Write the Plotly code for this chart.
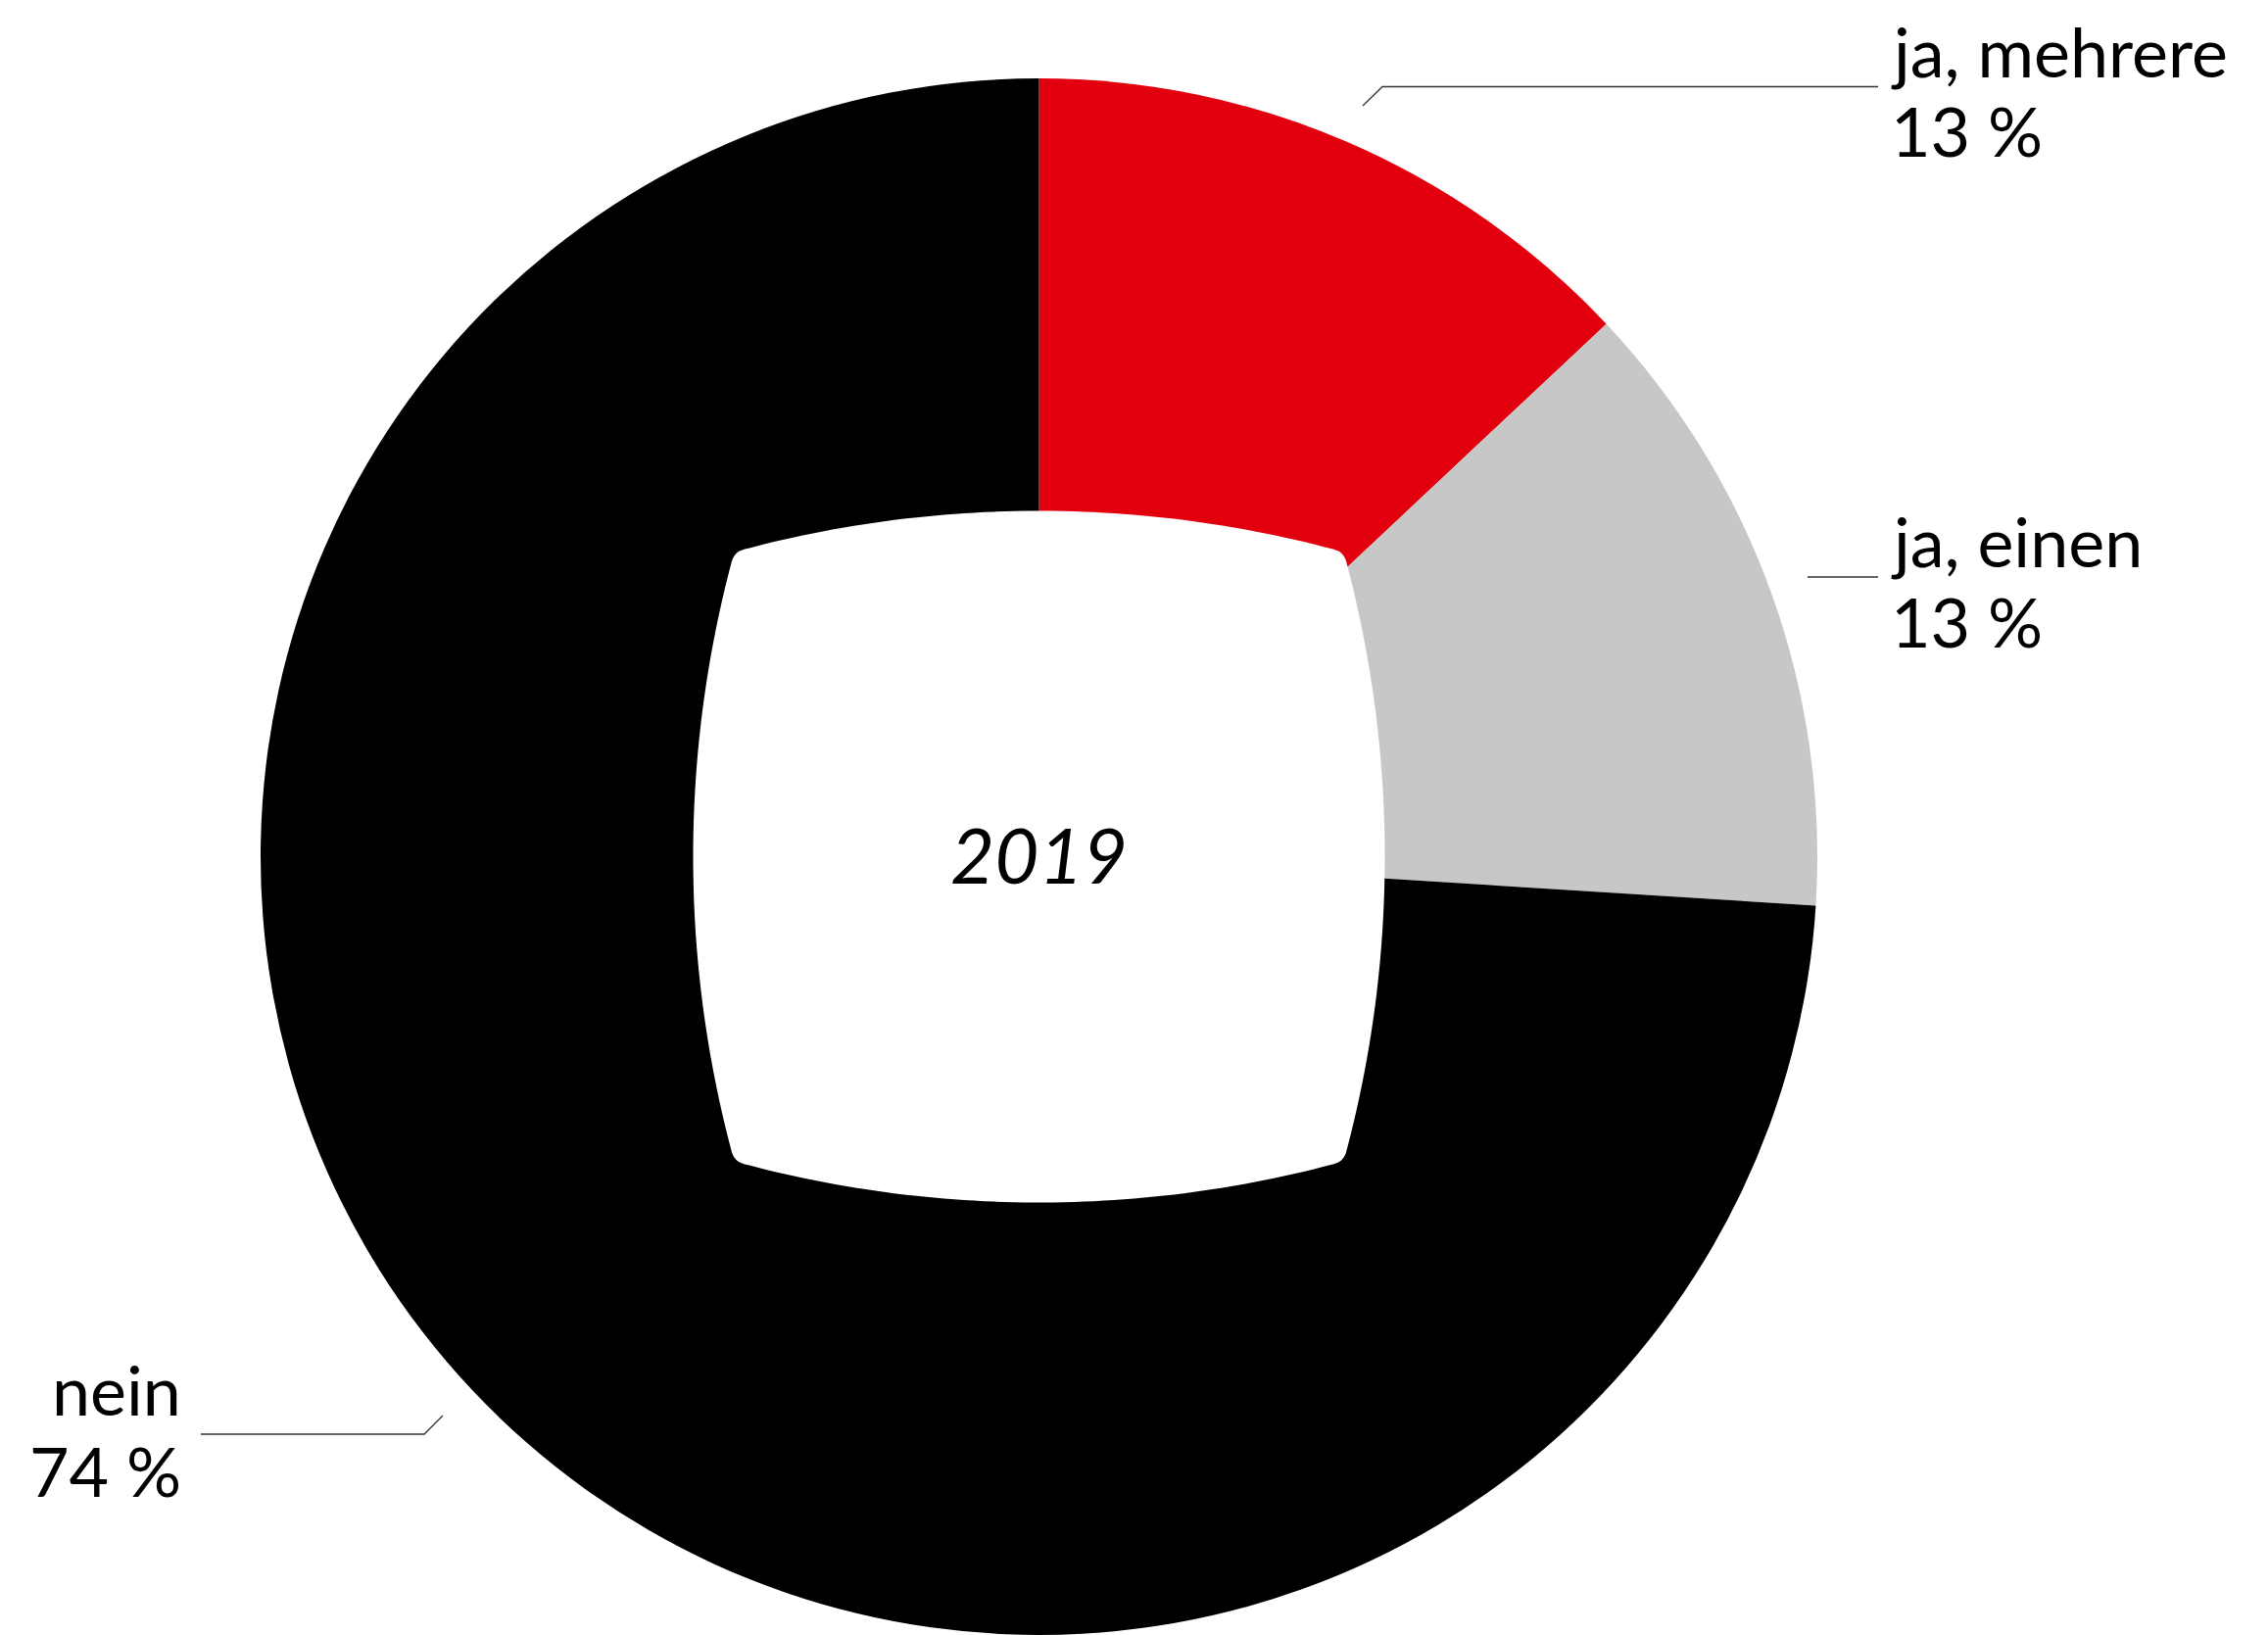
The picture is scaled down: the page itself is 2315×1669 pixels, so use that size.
import numpy as np
import plotly.graph_objects as go

# ---- data ----
categories = ["ja, mehrere", "ja, einen", "nein"]
values = [13, 13, 74]
colors = ["#E2000F", "#C6C7C6", "#000000"]
center_label = "2019"

W, H = 2315, 1669
FONT = "Lato"
OFF = 8  # page body margin

def px(x):
    return (x - OFF) / W

def py(y):
    return 1 - (y - OFF) / H

# pie geometry (screen pixels)
cx, cy, R = 1060.5, 874.5, 794.5

fig = go.Figure(go.Pie(
    labels=categories, values=values, sort=False, direction="clockwise",
    rotation=0, marker=dict(colors=colors, line=dict(width=0)),
    textinfo="none", hoverinfo="label+percent", showlegend=False,
    domain=dict(x=[px(cx - R), px(cx + R)], y=[py(cy + R), py(cy - R)]),
))

# ---- squircle-like hole ----
h = 353.0      # half size at side midpoint
c = 311.0      # corner offset
sag = h - c
Rc = (c * c + sag * sag) / (2 * sag)
f = 10.0       # fillet length

def top_side(n=60):
    xs = np.linspace(-c + f, c - f, n)
    ys = (h - Rc) + np.sqrt(Rc ** 2 - xs ** 2)
    return np.column_stack([xs, ys])

def rot_cw(pts, k):
    out = pts.copy()
    for _ in range(k):
        out = np.column_stack([out[:, 1], -out[:, 0]])
    return out

sides = [rot_cw(top_side(), k) for k in range(4)]
corners = [rot_cw(np.array([[c, c]]), k)[0] for k in range(4)]
pts = []
for k in range(4):
    pts.extend(sides[k].tolist())
    p0 = sides[k][-1]
    p2 = sides[(k + 1) % 4][0]
    p1 = corners[k]
    for t in np.linspace(0.1, 0.9, 8):
        q = (1 - t) ** 2 * p0 + 2 * (1 - t) * t * p1 + t ** 2 * p2
        pts.append(q.tolist())

path = "M " + " L ".join(f"{px(cx + x):.6f},{py(cy - y):.6f}" for x, y in pts) + " Z"

shapes = [dict(type="path", path=path, xref="paper", yref="paper",
               fillcolor="white", line=dict(width=0), layer="above")]

# ---- leader lines ----
LC = "#333333"
def seg(points):
    d = "M " + " L ".join(f"{px(x):.6f},{py(y):.6f}" for x, y in points)
    return dict(type="path", path=d, xref="paper", yref="paper",
                line=dict(color=LC, width=1.3), layer="above")

shapes.append(seg([(1391, 108), (1411, 88.5), (1917, 88.5)]))
shapes.append(seg([(1845, 589), (1917, 589)]))
shapes.append(seg([(205, 1464), (433, 1464), (452, 1445)]))

# ---- labels ----
FS = 70
ann = []
label_pos = [  # (x, y_line1, y_line2, anchor)
    (1928, 52, 133, "left"),
    (1928, 552, 634, "left"),
    (187, 1418, 1501, "right"),
]
for (x, y1, y2, anc), lab, v in zip(label_pos, categories, values):
    ann.append(dict(x=px(x), y=py(y1), xref="paper", yref="paper", text=lab,
                    showarrow=False, xanchor=anc, yanchor="middle",
                    font=dict(family=FONT, size=FS, color="black")))
    ann.append(dict(x=px(x), y=py(y2), xref="paper", yref="paper", text=f"{v} %",
                    showarrow=False, xanchor=anc, yanchor="middle",
                    font=dict(family=FONT, size=FS, color="black")))

ann.append(dict(x=px(1060), y=py(872), xref="paper", yref="paper",
                text=f"<i>{center_label}</i>", showarrow=False,
                xanchor="center", yanchor="middle",
                font=dict(family=FONT, size=78, color="black")))

fig.update_layout(
    width=W, height=H, margin=dict(l=0, r=0, t=0, b=0),
    paper_bgcolor="white", plot_bgcolor="white",
    shapes=shapes, annotations=ann,
)

fig.write_html("out.html")
